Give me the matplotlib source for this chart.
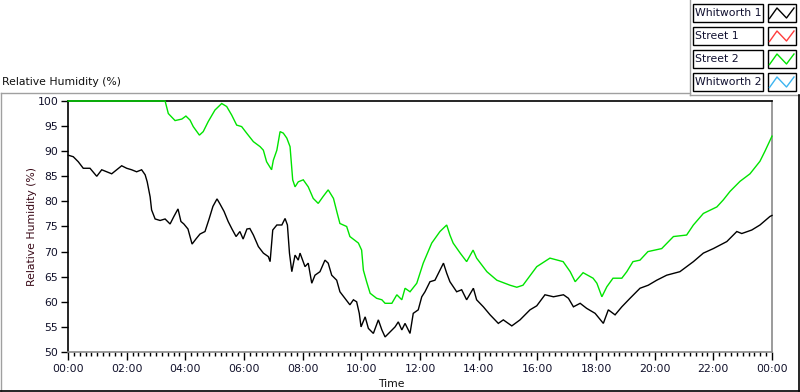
import matplotlib
matplotlib.use("Agg")
import matplotlib.pyplot as plt
from matplotlib.lines import Line2D
from matplotlib.patches import Rectangle
from matplotlib.ticker import MultipleLocator, FixedLocator

plt.rcParams['font.family'] = ['DejaVu Sans']

# ---------------- data (hours since 00:00, relative humidity %) ----------------
street2_t = [0.0, 3.31, 3.42, 3.65, 3.88, 4.02, 4.16, 4.27, 4.48, 4.61, 4.78, 5.01, 5.24, 5.41,
             5.58, 5.75, 5.92, 6.09, 6.32, 6.55, 6.66, 6.77, 6.94, 7.0, 7.12, 7.23, 7.34, 7.46,
             7.57, 7.66, 7.74, 7.85, 8.02, 8.19, 8.36, 8.53, 8.7, 8.87, 9.05, 9.18, 9.27, 9.5,
             9.61, 9.9, 10.01, 10.07, 10.18, 10.3, 10.52, 10.7, 10.81, 11.04, 11.21, 11.38,
             11.49, 11.66, 11.89, 12.11, 12.4, 12.68, 12.91, 13.02, 13.13, 13.37, 13.59, 13.81,
             13.93, 14.28, 14.62, 15.07, 15.3, 15.51, 15.98, 16.43, 16.88, 17.12, 17.29, 17.56,
             17.9, 18.03, 18.2, 18.37, 18.58, 18.88, 19.05, 19.26, 19.5, 19.77, 20.24, 20.64,
             21.09, 21.32, 21.66, 22.12, 22.34, 22.57, 22.91, 23.25, 23.59, 23.76, 24.0]
street2_v = [100, 100, 97.5, 96.1, 96.4, 97.0, 96.2, 94.9, 93.2, 93.9, 95.9, 98.2, 99.5, 98.9,
             97.2, 95.2, 94.9, 93.6, 91.9, 90.9, 90.2, 87.9, 86.3, 88.2, 90.2, 93.9, 93.6, 92.6,
             90.9, 84.3, 82.9, 83.9, 84.3, 82.9, 80.6, 79.6, 81.0, 82.3, 80.6, 77.6, 75.6, 75.0,
             73.0, 71.7, 70.3, 66.3, 64.0, 61.7, 60.7, 60.4, 59.7, 59.7, 61.4, 60.4,
             62.7, 62.0, 63.7, 67.7, 71.7, 74.0, 75.3, 73.3, 71.7, 69.7, 68.0, 70.3,
             68.7, 66.0, 64.3, 63.3, 62.9, 63.3, 67.0, 68.7, 68.0, 66.0, 64.0, 65.8,
             64.7, 63.7, 61.0, 63.0, 64.7, 64.7, 66.0, 68.0, 68.3, 70.0, 70.6, 73.0,
             73.3, 75.3, 77.6, 78.9, 80.3, 82.0, 84.0, 85.5, 88.0, 90.0, 93.0]

whit1_t = [0.01, 0.18, 0.35, 0.52, 0.75, 0.98, 1.15, 1.32, 1.49, 1.66, 1.83, 2.0, 2.17, 2.34,
           2.51, 2.63, 2.7, 2.8, 2.85, 2.97, 3.14, 3.31, 3.48, 3.61, 3.75, 3.85, 3.95, 4.09,
           4.23, 4.36, 4.5, 4.67, 4.81, 4.94, 5.08, 5.18, 5.32, 5.46, 5.59, 5.73, 5.86, 5.97,
           6.1, 6.2, 6.32, 6.49, 6.66, 6.83, 6.89, 6.98, 7.12, 7.29, 7.4, 7.48, 7.55, 7.63,
           7.74, 7.85, 7.91, 8.08, 8.19, 8.31, 8.42, 8.59, 8.76, 8.87, 8.99, 9.16, 9.27, 9.44,
           9.61, 9.73, 9.84, 9.93, 9.99, 10.13, 10.24, 10.41, 10.58, 10.7, 10.81, 10.98, 11.15,
           11.26, 11.38, 11.49, 11.66, 11.77, 11.94, 12.06, 12.17, 12.34, 12.51, 12.68, 12.8,
           12.91, 13.02, 13.25, 13.42, 13.59, 13.82, 13.93, 14.16, 14.39, 14.67, 14.84, 15.13,
           15.41, 15.75, 15.98, 16.26, 16.55, 16.89, 17.06, 17.23, 17.46, 17.68, 17.97, 18.25,
           18.42, 18.65, 18.88, 19.16, 19.5, 19.78, 20.07, 20.41, 20.86, 21.32, 21.66, 22.0,
           22.46, 22.8, 22.97, 23.31, 23.59, 23.93, 24.0]
whit1_v = [89.2, 88.9, 87.9, 86.6, 86.6, 85.0, 86.3, 85.9, 85.5, 86.3, 87.1, 86.6, 86.3, 85.9,
           86.3, 85.3, 83.9, 80.9, 78.3, 76.5, 76.2, 76.5, 75.5, 77.0, 78.5, 76.0, 75.5, 74.5,
           71.5, 72.5, 73.5, 74.0, 76.5, 79.0, 80.5, 79.5, 78.0, 76.0, 74.5, 73.0, 74.0, 72.5,
           74.5, 74.6, 73.3, 71.0, 69.7, 69.0, 68.0, 74.3, 75.3, 75.3, 76.6, 75.3, 69.7, 66.0,
           69.3, 68.3, 69.7, 67.0, 67.7, 63.7, 65.3, 66.0, 68.3, 67.7, 65.3, 64.3, 62.0, 60.7,
           59.4, 60.4, 60.0, 57.7, 55.0, 57.0, 54.7, 53.7, 56.4, 54.4, 53.0, 54.0, 55.0,
           56.0, 54.4, 55.7, 53.7, 57.7, 58.4, 61.0, 62.0, 64.0, 64.3, 66.3, 67.7,
           65.7, 64.0, 62.0, 62.4, 60.4, 62.7, 60.4, 59.0, 57.4, 55.7, 56.4, 55.2,
           56.4, 58.4, 59.2, 61.4, 61.0, 61.4, 60.7, 59.0, 59.7, 58.7, 57.7, 55.7,
           58.4, 57.4, 59.0, 60.7, 62.7, 63.3, 64.3, 65.3, 66.0, 68.0, 69.7, 70.6,
           72.0, 74.0, 73.6, 74.3, 75.3, 77.0, 77.2]

street1_t, street1_v = [], []
whit2_t, whit2_v = [], []

series_names = ["Whitworth 1", "Street 1", "Street 2", "Whitworth 2"]
series_colors = ["#000000", "#ff3c3c", "#00e400", "#3cb4f0"]

x_ticks = [0, 2, 4, 6, 8, 10, 12, 14, 16, 18, 20, 22, 24]
x_labels = ["00:00", "02:00", "04:00", "06:00", "08:00", "10:00", "12:00",
            "14:00", "16:00", "18:00", "20:00", "22:00", "00:00"]
y_ticks = [50, 55, 60, 65, 70, 75, 80, 85, 90, 95, 100]

# ---------------- figure ----------------
W, H = 800, 392
fig = plt.figure(figsize=(W / 100, H / 100), dpi=100)
fig.patch.set_facecolor("white")

def fx(x):
    return x / W

def fy(y):
    return 1 - y / H

L, R, T, B = 68, 772, 101, 352
ax = fig.add_axes([fx(L), fy(B), fx(R) - fx(L), fy(T) - fy(B)])
ax.set_xlim(0, 24)
ax.set_ylim(50, 100)

all_t = [whit1_t, street1_t, street2_t, whit2_t]
all_v = [whit1_v, street1_v, street2_v, whit2_v]
order = [1, 3, 0, 2]
for k, i in enumerate(order):
    ax.plot(all_t[i], all_v[i], color=series_colors[i], lw=1.0, clip_on=False,
            zorder=3 + k, solid_joinstyle="miter")

fs = 7.8
ax.xaxis.set_major_locator(FixedLocator(x_ticks))
ax.set_xticklabels(x_labels, fontsize=fs, color="#10102a")
ax.xaxis.set_minor_locator(MultipleLocator(0.2))
ax.yaxis.set_major_locator(FixedLocator(y_ticks))
ax.set_yticklabels([str(v) for v in y_ticks], fontsize=fs, color="#10102a")
ax.tick_params(axis="x", which="major", direction="out", length=5.5, width=1, pad=3, color="black")
ax.tick_params(axis="x", which="minor", direction="out", length=3, width=1, color="black")
ax.tick_params(axis="y", which="major", direction="out", length=5, width=1, pad=2, color="black")

for s in ["top", "left"]:
    ax.spines[s].set_color("black")
    ax.spines[s].set_linewidth(1.2)
ax.spines["right"].set_color("#8a8a8a")
ax.spines["right"].set_linewidth(1.2)
ax.spines["bottom"].set_color("#8a8a8a")
ax.spines["bottom"].set_linewidth(1.2)
for s in ax.spines.values():
    s.set_zorder(2)

fig.text(fx(391), fy(384), "Time", fontsize=fs, ha="center", va="center", color="#101010")
fig.text(fx(32), fy(226), "Relative Humidity (%)", fontsize=fs, rotation=90,
         ha="center", va="center", color="#3a0a18")
fig.text(fx(2), fy(82), "Relative Humidity (%)", fontsize=fs, ha="left", va="center",
         color="#101010")

# ---------------- panel frame ----------------
def fline(xs, ys, color, lw=1.0):
    fig.add_artist(Line2D([fx(x) for x in xs], [fy(y) for y in ys], color=color, lw=lw))

fline([0.5, 689.5], [92.5, 92.5], "#a0a0a0")
fline([689.5, 689.5], [0, 94.5], "#a0a0a0")
fline([689.5, 800], [94.5, 94.5], "#a0a0a0")
fline([0.5, 0.5], [92.5, 392], "#a0a0a0")
fline([0, 800], [390.5, 390.5], "black", 1.2)
fline([798.8, 798.8], [95, 391], "black", 1.2)

# ---------------- legend ----------------
row_tops = [4, 27, 50, 73]
row_h = 17.5
for name, col, top in zip(series_names, series_colors, row_tops):
    bot = top + row_h
    fig.add_artist(Rectangle((fx(692.5), fy(bot)), fx(762.5) - fx(692.5), fy(top) - fy(bot),
                             transform=fig.transFigure, fill=False, edgecolor="black", lw=1.0))
    fig.add_artist(Rectangle((fx(767.5), fy(bot)), fx(796) - fx(767.5), fy(top) - fy(bot),
                             transform=fig.transFigure, fill=False, edgecolor="black", lw=1.0))
    fig.text(fx(695), fy(top + row_h / 2 + 0.5), name, fontsize=fs, ha="left", va="center",
             color="#101030")
    zx = [769.5, 777, 786.5, 794]
    zy = [bot - 3, top + 4, bot - 3.5, top + 4]
    fline(zx, zy, col, 1.0)

fig.savefig("out.png", dpi=100, facecolor="white")
